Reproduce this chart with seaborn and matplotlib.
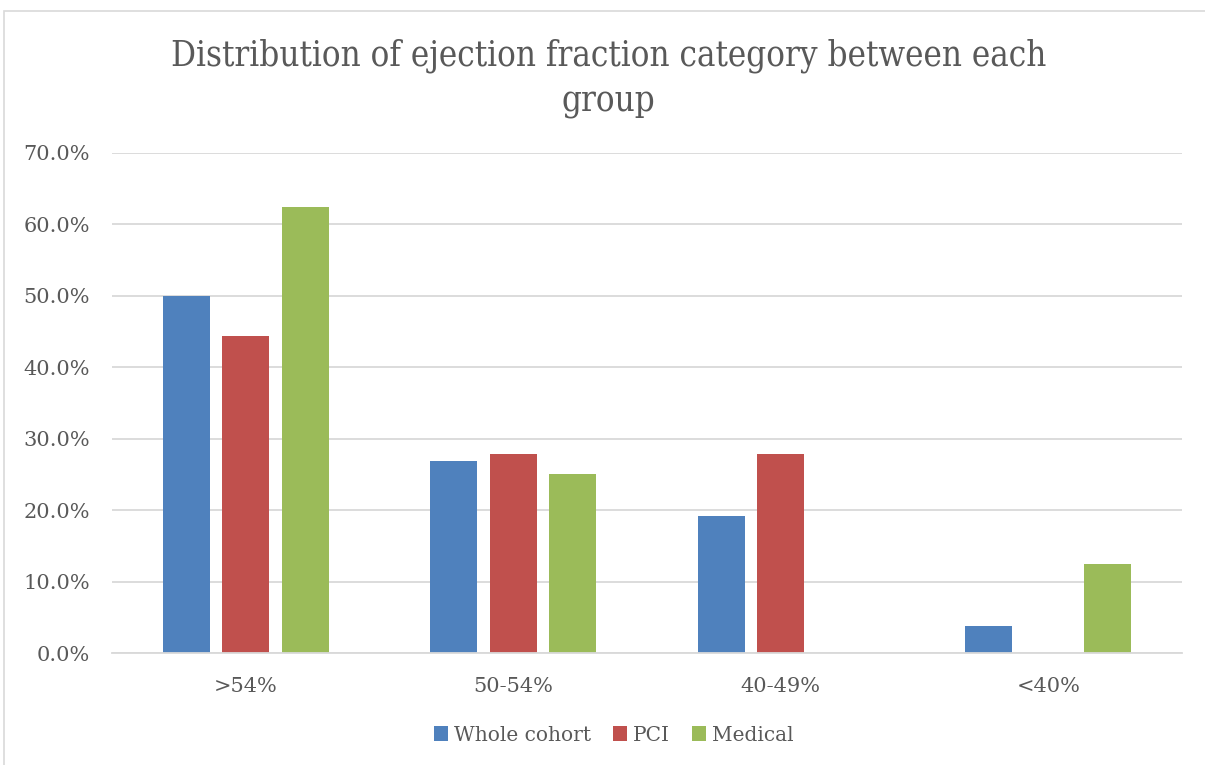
import matplotlib
matplotlib.use("Agg")
import matplotlib.pyplot as plt
from matplotlib.patches import Rectangle
from matplotlib.ticker import FuncFormatter
import seaborn as sns
import pandas as pd

categories = [">54%", "50-54%", "40-49%", "<40%"]
groups = ["Whole cohort", "PCI", "Medical"]
whole_cohort = [50.0, 26.9, 19.2, 3.8]
pci = [44.4, 27.8, 27.8, 0.0]
medical = [62.5, 25.0, 0.0, 12.5]
colors = ["#4F81BD", "#C0504D", "#9BBB59"]

df = pd.DataFrame({
    "category": categories * 3,
    "group": [g for g in groups for _ in categories],
    "value": whole_cohort + pci + medical,
})

sns.set_theme(style="white")
plt.rcParams["font.family"] = ["DejaVu Serif"]
text_color = "#595959"

fig = plt.figure(figsize=(12.05, 7.65), dpi=100)
ax = fig.add_axes([0.0929, 0.1464, 0.8880, 0.6536])

sns.barplot(data=df, x="category", y="value", hue="group", order=categories,
            hue_order=groups, palette=colors, width=0.667, gap=0.21,
            saturation=1, ax=ax, legend=True, edgecolor="none", linewidth=0)

ax.set_ylim(0, 70)
ax.set_xlim(-0.5, 3.5)
ax.set_yticks(range(0, 71, 10))
ax.yaxis.set_major_formatter(FuncFormatter(lambda v, p: f"{v:.1f}%"))
ax.grid(axis="y", color="#D9D9D9", linewidth=1.3)
ax.set_axisbelow(True)
for s in ["top", "right", "left"]:
    ax.spines[s].set_visible(False)
ax.spines["bottom"].set_color("#D9D9D9")
ax.spines["bottom"].set_linewidth(1.3)
ax.set_xlabel("")
ax.set_ylabel("")
ax.tick_params(axis="both", length=0, labelsize=15, colors=text_color)
ax.tick_params(axis="y", pad=16)
ax.tick_params(axis="x", pad=17)

handles, labels = ax.get_legend_handles_labels()
ax.legend(handles, labels, loc="center", bbox_to_anchor=(0.469, -0.164),
          ncol=3, frameon=False, fontsize=14.5, handlelength=0.7,
          handleheight=0.7, handletextpad=0.3, columnspacing=1.1,
          labelcolor=text_color)

fig.text(0.505, 0.897, "Distribution of ejection fraction category between each\ngroup",
         ha="center", va="center", fontsize=25, color=text_color,
         fontstretch="condensed", linespacing=1.42)

fig.patches.append(Rectangle((0.003, -0.01), 1.0, 0.995, transform=fig.transFigure,
                             fill=False, edgecolor="#D9D9D9", linewidth=1.2))

fig.savefig("out.png", dpi=100)
